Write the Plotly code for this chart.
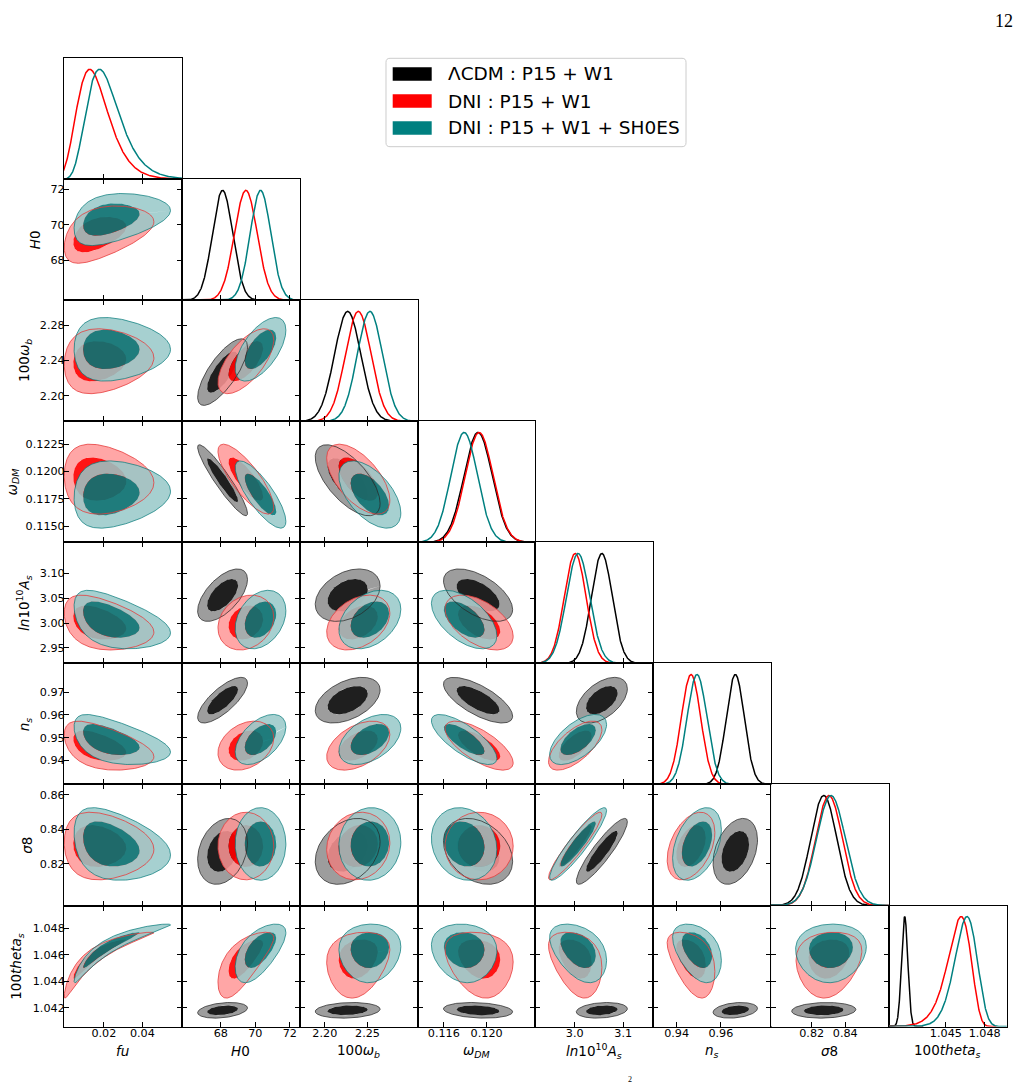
import numpy as np
import plotly.graph_objects as go

# ---------------- page / grid geometry (pixels) ----------------
W, H = 1020, 1087
GRID_LEFT, GRID_TOP = 64.0, 58.3
CELL_W, CELL_H = 117.84, 121.03

# ---------------- parameters / axes ----------------
PARAM_KEYS = ["fu", "H0", "omega_b", "omega_dm", "lnAs", "n_s", "sigma8", "theta_s"]
AXIS_TITLES = ["<i>fu</i>", "<i>H</i>0", "100<i>ω</i><sub><i>b</i></sub>",
               "<i>ω</i><sub><i>DM</i></sub>",
               "<i>ln</i>10<sup>10</sup><i>A</i><sub><i>s</i></sub>",
               "<i>n</i><sub><i>s</i></sub>", "<i>σ</i>8",
               "100<i>theta</i><sub><i>s</i></sub>"]
AXIS_RANGES = [[-0.0007, 0.0605], [65.74, 72.57], [2.1706, 2.3086], [0.11354, 0.12456],
               [2.9188, 3.162], [0.92941, 0.98266], [0.7958, 0.8660], [1.0406, 1.0497]]
X_TICKS = [[0.02, 0.04], [68, 70, 72], [2.20, 2.25], [0.116, 0.120], [3.0, 3.1],
           [0.94, 0.96], [0.82, 0.84], [1.045, 1.048]]
X_TICK_TEXT = [["0.02", "0.04"], ["68", "70", "72"], ["2.20", "2.25"], ["0.116", "0.120"],
               ["3.0", "3.1"], ["0.94", "0.96"], ["0.82", "0.84"], ["1.045", "1.048"]]
Y_TICKS = [[], [68, 70, 72], [2.20, 2.24, 2.28], [0.1150, 0.1175, 0.1200, 0.1225],
           [2.95, 3.00, 3.05, 3.10], [0.94, 0.95, 0.96, 0.97], [0.82, 0.84, 0.86],
           [1.042, 1.044, 1.046, 1.048]]
Y_TICK_TEXT = [[], ["68", "70", "72"], ["2.20", "2.24", "2.28"],
               ["0.1150", "0.1175", "0.1200", "0.1225"], ["2.95", "3.00", "3.05", "3.10"],
               ["0.94", "0.95", "0.96", "0.97"], ["0.82", "0.84", "0.86"],
               ["1.042", "1.044", "1.046", "1.048"]]
Y_TITLE_X = [None, 35.3, 25.0, 12.5, 24.0, 25.3, 26.7, 16.7]

# ---------------- models (center, scale, skew, correlations) ----------------
MODEL_LABELS = ["ΛCDM : P15 + W1", "DNI : P15 + W1", "DNI : P15 + W1 + SH0ES"]

LCDM_CENTER = [None, 68.10, 2.2268, 0.11920, 3.056, 0.9665, 0.8272, 1.04182]
LCDM_SCALE = [None, 0.59, 0.0155, 0.00132, 0.0215, 0.0041, 0.0078, 0.00024]
LCDM_SKEW = [0, 0, 0, 0, 0, 0, 0, 0]
LCDM_CORR = [
    [],
    [None],
    [None, 0.75],
    [None, -0.93, -0.65],
    [None, 0.60, 0.35, -0.55],
    [None, 0.75, 0.45, -0.70, 0.50],
    [None, 0.25, 0.30, -0.30, 0.90, 0.35],
    [None, 0.30, 0.15, -0.20, 0.20, 0.25, 0.10],
]

DNI_CENTER = [0.0150, 69.45, 2.2392, 0.11930, 3.001, 0.9465, 0.8303, 1.04595]
DNI_SCALE = [0.0088, 0.66, 0.0151, 0.00130, 0.0225, 0.0044, 0.0080, 0.00095]
DNI_SKEW = [0.28, 0, 0, 0, 0, 0, 0, -0.25]
DNI_CORR = [
    [],
    [0.45],
    [0.10, 0.65],
    [-0.10, -0.80, -0.60],
    [-0.35, 0.20, 0.35, -0.50],
    [-0.45, 0.30, 0.45, -0.70, 0.65],
    [-0.10, 0.00, 0.10, 0.00, 0.93, 0.40],
    [0.96, 0.70, 0.20, -0.20, -0.35, -0.45, 0.15],
]

SH0ES_CENTER = [0.0205, 70.30, 2.2528, 0.11790, 3.007, 0.9492, 0.8315, 1.04650]
SH0ES_SCALE = [0.0093, 0.60, 0.0148, 0.00125, 0.0240, 0.0045, 0.0086, 0.00088]
SH0ES_SKEW = [0.31, 0, 0, 0, 0, 0, 0, -0.15]
SH0ES_CORR = [
    [],
    [0.35],
    [0.00, 0.60],
    [0.10, -0.80, -0.55],
    [-0.45, 0.30, 0.35, -0.55],
    [-0.50, 0.50, 0.45, -0.75, 0.60],
    [-0.30, 0.00, 0.05, -0.15, 0.92, 0.40],
    [0.96, 0.60, 0.05, -0.10, -0.40, -0.40, 0.05],
]

# ---------------- styles ----------------
LINE_COLORS = ["#000000", "#ff0000", "#008080"]
FILL_OUTER = ["rgba(140,140,140,0.85)", "rgba(255,150,150,0.85)", "rgba(150,200,200,0.85)"]
FILL_INNER = ["rgba(0,0,0,0.88)", "rgba(255,0,0,0.92)", "rgba(0,118,118,0.88)"]
EDGE_COLORS = ["rgba(40,40,40,0.75)", "rgba(230,60,60,0.8)", "rgba(0,120,120,0.7)"]
R_IN, R_OUT = 1.52, 2.45
FONT = "DejaVu Sans"

MODELS = [
    dict(center=LCDM_CENTER, scale=LCDM_SCALE, skew=LCDM_SKEW, corr=LCDM_CORR),
    dict(center=DNI_CENTER, scale=DNI_SCALE, skew=DNI_SKEW, corr=DNI_CORR),
    dict(center=SH0ES_CENTER, scale=SH0ES_SCALE, skew=SH0ES_SKEW, corr=SH0ES_CORR),
]


def transform(z, m, p):
    c, s, k = m["center"][p], m["scale"][p], m["skew"][p]
    if abs(k) < 1e-12:
        return c + s * z
    return c + s * np.expm1(k * z) / k


def fx(px):
    return px / W


def fy(py):
    return 1.0 - py / H


TT = np.linspace(0.0, 2.0 * np.pi, 241)
ZG = np.linspace(-6.0, 6.0, 1201)

fig = go.Figure()
layout = {}
k = 0
for i in range(8):
    for j in range(i + 1):
        k += 1
        xn = "x" if k == 1 else f"x{k}"
        yn = "y" if k == 1 else f"y{k}"
        xkey = "xaxis" if k == 1 else f"xaxis{k}"
        ykey = "yaxis" if k == 1 else f"yaxis{k}"
        x0 = GRID_LEFT + CELL_W * j
        y0 = GRID_TOP + CELL_H * i
        diag = (i == j)
        tickfont = dict(family=FONT, size=11.2, color="black")
        layout[xkey] = dict(
            domain=[fx(x0), fx(x0 + CELL_W)], anchor=yn, range=AXIS_RANGES[j],
            tickvals=X_TICKS[j], ticktext=X_TICK_TEXT[j], ticks="inside", ticklen=5,
            tickwidth=1, tickcolor="black", showline=True, linecolor="black", linewidth=1,
            mirror=True if diag else "ticks", showgrid=False, zeroline=False,
            showticklabels=(i == 7), tickfont=tickfont, ticklabelstandoff=-4,
            fixedrange=True)
        if diag:
            layout[ykey] = dict(
                domain=[fy(y0 + CELL_H), fy(y0)], anchor=xn, range=[0, 1.1],
                showticklabels=False, ticks="", showline=True, linecolor="black",
                linewidth=1, mirror=True, showgrid=False, zeroline=False, fixedrange=True)
            for m, col in zip(MODELS, LINE_COLORS):
                if m["center"][i] is None:
                    continue
                xs = transform(ZG, m, i)
                dens = np.exp(-0.5 * ZG ** 2) / (m["scale"][i] * np.exp(m["skew"][i] * ZG))
                dens = dens / dens.max()
                fig.add_trace(go.Scatter(x=xs, y=dens, mode="lines", xaxis=xn, yaxis=yn,
                                         line=dict(color=col, width=1.5),
                                         showlegend=False, hoverinfo="skip"))
        else:
            layout[ykey] = dict(
                domain=[fy(y0 + CELL_H), fy(y0)], anchor=xn, range=AXIS_RANGES[i],
                tickvals=Y_TICKS[i], ticktext=Y_TICK_TEXT[i], ticks="inside", ticklen=5,
                tickwidth=1, tickcolor="black", showline=True, linecolor="black",
                linewidth=1, mirror="ticks", showgrid=False, zeroline=False,
                showticklabels=(j == 0), tickfont=tickfont, ticklabelstandoff=-4,
                fixedrange=True)
            outlines = []
            for mi, m in enumerate(MODELS):
                if m["center"][i] is None or m["center"][j] is None:
                    continue
                rho = m["corr"][i][j]
                curves = {}
                for r in (R_OUT, R_IN):
                    zx = r * np.cos(TT)
                    zy = r * (rho * np.cos(TT) + np.sqrt(1 - rho ** 2) * np.sin(TT))
                    curves[r] = (transform(zx, m, j), transform(zy, m, i))
                ox, oy = curves[R_OUT]
                ix, iy = curves[R_IN]
                fig.add_trace(go.Scatter(
                    x=np.concatenate([ox, ix[::-1]]), y=np.concatenate([oy, iy[::-1]]),
                    mode="lines", fill="toself", fillcolor=FILL_OUTER[mi],
                    line=dict(width=0, color="rgba(0,0,0,0)"), xaxis=xn, yaxis=yn,
                    showlegend=False, hoverinfo="skip"))
                fig.add_trace(go.Scatter(
                    x=ix, y=iy, mode="lines", fill="toself", fillcolor=FILL_INNER[mi],
                    line=dict(width=0, color="rgba(0,0,0,0)"), xaxis=xn, yaxis=yn,
                    showlegend=False, hoverinfo="skip"))
                outlines.append((ox, oy, EDGE_COLORS[mi]))
            for ox, oy, ec in outlines:
                fig.add_trace(go.Scatter(x=ox, y=oy, mode="lines",
                                         line=dict(width=1, color=ec), xaxis=xn, yaxis=yn,
                                         showlegend=False, hoverinfo="skip"))

annotations = []
# x axis titles
for j in range(8):
    annotations.append(dict(text=AXIS_TITLES[j], x=fx(GRID_LEFT + CELL_W * (j + 0.5)),
                            y=fy(1051), xref="paper", yref="paper", showarrow=False,
                            xanchor="center", yanchor="middle",
                            font=dict(family=FONT, size=13.5, color="black")))
# y axis titles
for i in range(1, 8):
    annotations.append(dict(text=AXIS_TITLES[i], x=fx(Y_TITLE_X[i]),
                            y=fy(GRID_TOP + CELL_H * (i + 0.5)), xref="paper", yref="paper",
                            showarrow=False, textangle=-90, xanchor="center",
                            yanchor="middle", font=dict(family=FONT, size=13.5, color="black")))

# legend (drawn manually)
shapes = []
lx0, ly0, lx1, ly1, rad = 386.0, 58.3, 686.0, 146.7, 4.0


def P(x, y):
    return f"{fx(x):.6f},{fy(y):.6f}"


path = (f"M {P(lx0 + rad, ly0)} L {P(lx1 - rad, ly0)} Q {P(lx1, ly0)} {P(lx1, ly0 + rad)} "
        f"L {P(lx1, ly1 - rad)} Q {P(lx1, ly1)} {P(lx1 - rad, ly1)} "
        f"L {P(lx0 + rad, ly1)} Q {P(lx0, ly1)} {P(lx0, ly1 - rad)} "
        f"L {P(lx0, ly0 + rad)} Q {P(lx0, ly0)} {P(lx0 + rad, ly0)} Z")
shapes.append(dict(type="path", path=path, xref="paper", yref="paper",
                   line=dict(color="#cccccc", width=1), fillcolor="rgba(255,255,255,0.8)"))
LEGEND_ROWS = [74.0, 101.0, 128.0]
for yc, col, lab in zip(LEGEND_ROWS, LINE_COLORS, MODEL_LABELS):
    shapes.append(dict(type="rect", xref="paper", yref="paper", x0=fx(392.7), x1=fx(431.7),
                       y0=fy(yc + 6.8), y1=fy(yc - 6.8), fillcolor=col, line=dict(width=0)))
    annotations.append(dict(text=lab, x=fx(445.7), y=fy(yc), xref="paper", yref="paper",
                            showarrow=False, xanchor="left", yanchor="middle",
                            font=dict(family=FONT, size=18.5, color="black")))

# page number and footer fragment
annotations.append(dict(text="12", x=fx(1003.7), y=fy(20.5), xref="paper", yref="paper",
                        showarrow=False, xanchor="center", yanchor="middle",
                        font=dict(family="Liberation Serif", size=18, color="black")))
annotations.append(dict(text="2", x=fx(630), y=fy(1079), xref="paper", yref="paper",
                        showarrow=False, xanchor="center", yanchor="middle",
                        font=dict(family="Liberation Serif", size=8, color="black")))

fig.update_layout(width=W, height=H, autosize=False, margin=dict(l=0, r=0, t=0, b=0),
                  paper_bgcolor="white", plot_bgcolor="white", showlegend=False,
                  annotations=annotations, shapes=shapes, **layout)
fig.write_html("out.html", config={"displayModeBar": False, "staticPlot": False},
               post_script="document.body.style.margin='0px';"
                           "document.body.style.overflow='hidden';")
